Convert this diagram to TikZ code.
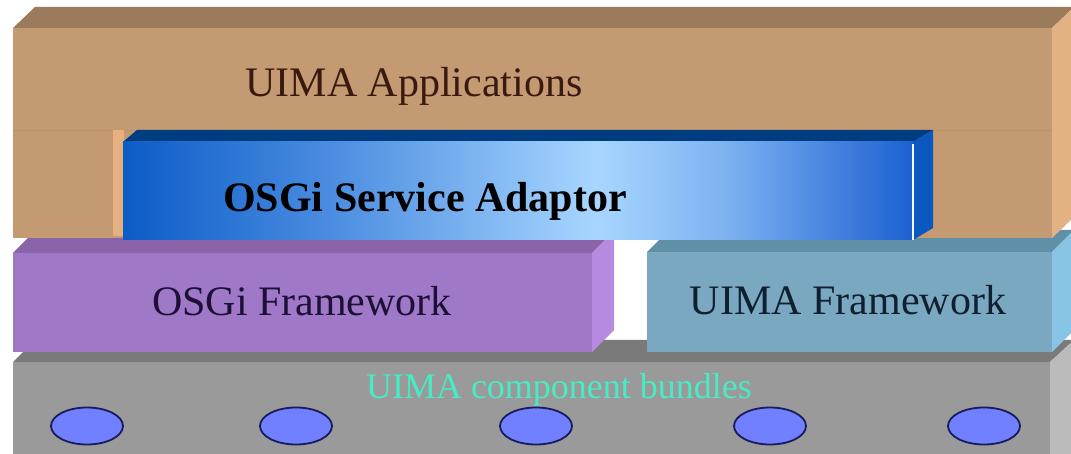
\documentclass[tikz,border=0pt]{standalone}
\usepackage{fontspec}
\setmainfont{Liberation Serif}
\usetikzlibrary{shapes.geometric}
\definecolor{brF}{HTML}{C49A72}
\definecolor{brT}{HTML}{9C7A5C}
\definecolor{brS}{HTML}{E2B282}
\definecolor{brL}{HTML}{E6B080}
\definecolor{buT}{HTML}{003C80}
\definecolor{buS}{HTML}{0A58C0}
\definecolor{buA}{HTML}{0C5CC8}
\definecolor{buB}{HTML}{4A8CE0}
\definecolor{buC}{HTML}{A8D6FF}
\definecolor{buD}{HTML}{1C60D2}
\definecolor{puF}{HTML}{A078C8}
\definecolor{puT}{HTML}{8A64A8}
\definecolor{puS}{HTML}{B68AE0}
\definecolor{teF}{HTML}{7AA8C0}
\definecolor{teT}{HTML}{6090A8}
\definecolor{teS}{HTML}{88C4E4}
\definecolor{grF}{HTML}{9A9A9A}
\definecolor{grT}{HTML}{7A7A7A}
\definecolor{grS}{HTML}{BBBBBB}
\definecolor{txBr}{HTML}{3A1A10}
\definecolor{txPu}{HTML}{1C1036}
\definecolor{txTe}{HTML}{102030}
\definecolor{txGr}{HTML}{48ECC4}
\definecolor{elF}{HTML}{7080FF}
\definecolor{elD}{HTML}{1A1A5C}
\pgfdeclarehorizontalshading{bluebar}{100bp}{color(0bp)=(buA); color(25bp)=(buA); color(38bp)=(buB); color(55bp)=(buC); color(63bp)=(buC!70!buD); color(75bp)=(buD); color(100bp)=(buD)}
\tikzset{
  bigtext/.style={font=\fontsize{42}{50}\selectfont, anchor=base, inner sep=0pt},
  bundletext/.style={font=\fontsize{36}{44}\selectfont, anchor=base, inner sep=0pt, text=txGr},
  bundle/.style={ellipse, draw=elD, fill=elF, line width=1.8pt, minimum width=72pt, minimum height=37pt, inner sep=0pt}
}
\begin{document}
\begin{tikzpicture}[x=1pt, y=-1pt]
\useasboundingbox (0,0) rectangle (1071,454);
\fill[white] (0,0) rectangle (1071,454);
\clip (0,0) rectangle (1071,454);
% gray layer
\fill[grT] (13,362) -- (35,340) -- (1074,340) -- (1050,362) -- cycle;
\fill[grF] (13,362) rectangle (1050,460);
\fill[grS] (1050,362) -- (1074,340) -- (1074,460) -- (1050,460) -- cycle;
% teal layer
\fill[teT] (647,252) -- (669,230) -- (1074,230) -- (1052,252) -- cycle;
\fill[teF] (647,252) rectangle (1052,352);
\fill[teS] (1052,252) -- (1074,230) -- (1074,330) -- (1052,352) -- cycle;
% purple layer
\fill[puT] (13,253) -- (35,231) -- (614,231) -- (592,253) -- cycle;
\fill[puF] (13,253) rectangle (592,352);
\fill[puS] (592,253) -- (614,231) -- (614,330) -- (592,352) -- cycle;
% brown layer
\fill[brT] (13,28) -- (35,7) -- (1074,7) -- (1052,28) -- cycle;
\fill[brF] (13,28) rectangle (1052,238);
\fill[brS] (1052,28) -- (1074,7) -- (1074,217) -- (1052,238) -- cycle;
\draw[brF!95!black, line width=0.5pt] (13,130) -- (1052,130);
\fill[brL] (113,130) rectangle (124,236);
% blue adaptor
\fill[buT] (123,142) -- (137,130) -- (933,130) -- (913,142) -- cycle;
\fill[buS] (913,142) -- (933,130) -- (933,228) -- (913,240) -- cycle;
\shade[shading=bluebar] (123,142) rectangle (913,240);
\draw[white!85!buC, line width=1.5pt] (913,144) -- (913,240);
% texts
\node[bigtext, text=txBr] (apps) at (414,97) {UIMA Applications};
\node[bigtext, text=black, font=\fontsize{42}{50}\selectfont\bfseries] (adaptor) at (425,212) {OSGi Service Adaptor};
\node[bigtext, text=txPu] (osgi) at (302,316) {OSGi Framework};
\node[bigtext, text=txTe] (uimaf) at (848,315) {UIMA Framework};
\node[bundletext] (bundles) at (559,398) {UIMA component bundles};
% bundles
\node[bundle] (b1) at (87,426) {};
\node[bundle] (b2) at (296,426) {};
\node[bundle] (b3) at (536,426) {};
\node[bundle] (b4) at (770,426) {};
\node[bundle] (b5) at (984,426) {};
\end{tikzpicture}
\end{document}
